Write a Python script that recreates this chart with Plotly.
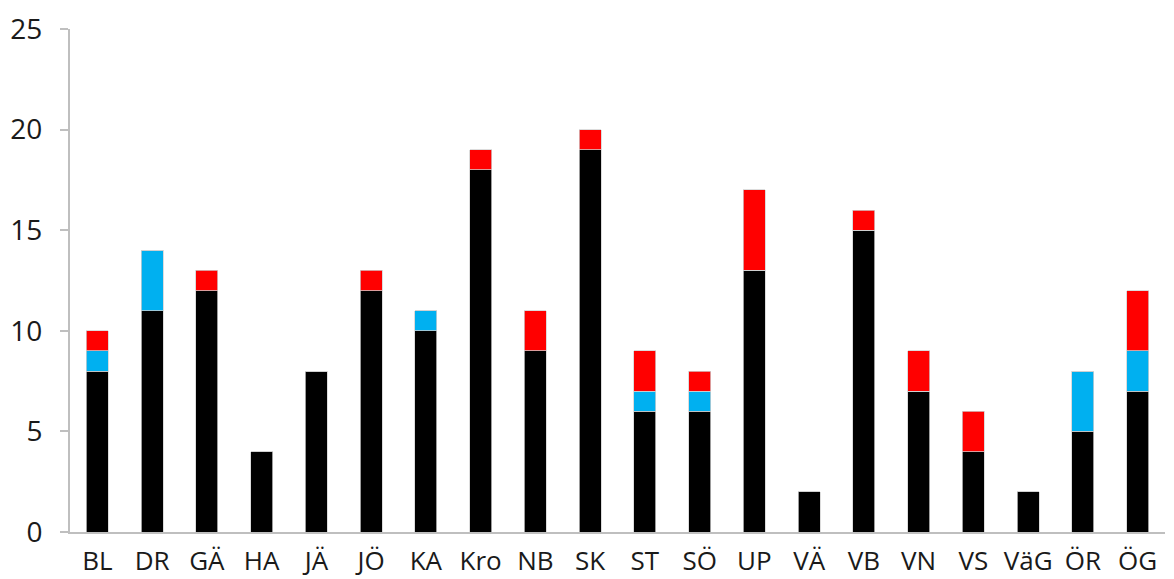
import plotly.graph_objects as go

categories = ["BL", "DR", "GÄ", "HA", "JÄ", "JÖ", "KA", "Kro", "NB", "SK",
              "ST", "SÖ", "UP", "VÄ", "VB", "VN", "VS", "VäG", "ÖR", "ÖG"]
black_vals = [8, 11, 12, 4, 8, 12, 10, 18, 9, 19, 6, 6, 13, 2, 15, 7, 4, 2, 5, 7]
blue_vals = [1, 3, 0, 0, 0, 0, 1, 0, 0, 0, 1, 1, 0, 0, 0, 0, 0, 0, 3, 2]
red_vals = [1, 0, 1, 0, 0, 1, 0, 1, 2, 1, 2, 1, 4, 0, 1, 2, 2, 0, 0, 3]
y_ticks = [0, 5, 10, 15, 20, 25]

FONT = "Open Sans"
fig = go.Figure()
for vals, col in [(black_vals, "#000000"), (blue_vals, "#00B0F0"), (red_vals, "#FF0000")]:
    fig.add_trace(go.Bar(x=categories, y=vals, marker=dict(color=col, line=dict(color="#D0D0D0", width=0.75)),
                         showlegend=False))

fig.update_layout(
    barmode="stack",
    bargap=0.6,
    width=1174, height=579,
    margin=dict(l=70, r=9, t=29, b=47),
    plot_bgcolor="white", paper_bgcolor="white",
    font=dict(family=FONT, size=28, color="#1a1a1a"),
)
fig.update_xaxes(showline=True, linecolor="#BFBFBF", linewidth=2, ticks="", showgrid=False,
                 tickfont=dict(size=26), ticklabelstandoff=5, automargin=False)
fig.update_yaxes(range=[0, 25], tickvals=y_ticks, showline=True, linecolor="#BFBFBF", linewidth=2,
                 ticks="outside", ticklen=8, tickcolor="#BFBFBF", tickwidth=2, showgrid=False,
                 zeroline=False, tickfont=dict(size=28), ticklabelstandoff=12, automargin=False)
fig.write_html("out.html", config={"displayModeBar": False},
               post_script="document.body.style.margin='0';document.body.style.overflow='hidden';")
